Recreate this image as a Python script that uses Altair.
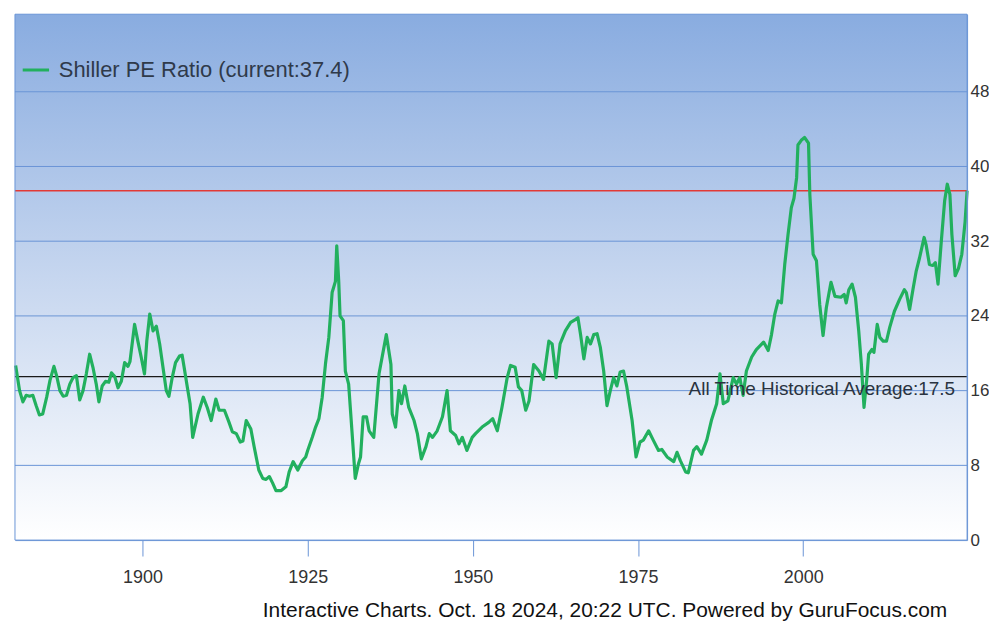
import altair as alt
import pandas as pd

# ---- data ----
years = [1880.8, 1881.4, 1881.9, 1882.4, 1882.9, 1883.4, 1883.9, 1884.4, 1884.9, 1885.5,
         1886.0, 1886.6, 1887.0, 1887.5, 1888.0, 1888.5, 1889.0, 1889.5, 1890.0, 1890.5,
         1891.0, 1891.5, 1892.0, 1892.5, 1893.0, 1893.4, 1893.9, 1894.4, 1894.9, 1895.3,
         1895.8, 1896.3, 1896.8, 1897.3, 1897.8, 1898.1, 1898.8, 1899.3, 1899.8, 1900.3,
         1900.65, 1901.1, 1901.6, 1902.1, 1902.6, 1903.1, 1903.6, 1904.0, 1904.5, 1905.0,
         1905.6, 1906.0, 1906.3, 1906.8, 1907.2, 1907.6, 1908.4, 1909.2, 1909.8, 1910.4,
         1911.1, 1911.6, 1912.4, 1913.1, 1913.6, 1914.2, 1914.8, 1915.2, 1915.7, 1916.4,
         1916.9, 1917.6, 1918.2, 1918.7, 1919.2, 1919.7, 1920.2, 1921.0, 1921.7, 1922.2,
         1922.8, 1923.5, 1924.2, 1924.7, 1925.0, 1925.7, 1926.2, 1926.7, 1927.2, 1927.7,
         1928.2, 1928.7, 1929.2, 1929.4, 1929.7, 1929.9, 1930.4, 1930.7, 1931.2, 1931.7,
         1932.2, 1932.7, 1933.0, 1933.4, 1933.9, 1934.3, 1935.0, 1935.8, 1936.9, 1937.6,
         1937.8, 1938.3, 1938.8, 1939.2, 1939.7, 1940.3, 1941.1, 1941.6, 1942.2, 1942.9,
         1943.4, 1943.9, 1944.6, 1945.4, 1946.1, 1946.6, 1947.4, 1947.9, 1948.4, 1949.1,
         1949.9, 1950.4, 1951.4, 1952.4, 1953.0, 1953.7, 1954.4, 1955.2, 1955.7, 1956.4,
         1956.9, 1957.4, 1958.0, 1958.5, 1959.2, 1960.0, 1960.7, 1961.5, 1962.0, 1962.6,
         1963.2, 1964.0, 1964.8, 1965.5, 1965.9, 1966.3, 1966.8, 1967.3, 1967.8, 1968.3,
         1968.8, 1969.3, 1969.8, 1970.3, 1970.8, 1971.3, 1971.8, 1972.3, 1972.8, 1973.3,
         1974.1, 1974.7, 1975.3, 1975.8, 1976.6, 1977.3, 1978.1, 1978.6, 1979.4, 1980.4,
         1980.9, 1981.4, 1982.2, 1982.6, 1983.4, 1983.9, 1984.6, 1985.4, 1986.1, 1986.9,
         1987.4, 1987.9, 1988.6, 1989.4, 1989.9, 1990.4, 1990.9, 1991.4, 1992.2, 1992.9,
         1994.0, 1994.7, 1995.2, 1995.7, 1996.2, 1996.7, 1997.2, 1997.7, 1998.2, 1998.6,
         1999.0, 1999.2, 1999.7, 2000.2, 2000.8, 2001.0, 2001.5, 2002.0, 2002.5, 2003.0,
         2003.5, 2004.2, 2004.8, 2005.7, 2006.2, 2006.5, 2006.9, 2007.4, 2007.9, 2008.4,
         2008.8, 2009.2, 2009.6, 2009.9, 2010.4, 2010.7, 2011.2, 2011.6, 2012.1, 2012.6,
         2013.1, 2013.8, 2014.6, 2015.3, 2015.6, 2016.1, 2016.6, 2017.1, 2017.6, 2018.3,
         2018.6, 2019.1, 2019.6, 2020.0, 2020.4, 2020.9, 2021.4, 2021.8, 2022.2, 2022.5,
         2023.0, 2023.5, 2024.0, 2024.5, 2024.8]
pe = [18.7, 16.0, 14.8, 15.5, 15.4, 15.5, 14.4, 13.4, 13.5, 15.3,
      17.1, 18.6, 17.6, 16.0, 15.4, 15.5, 16.7, 17.4, 17.6, 15.0,
      16.0, 17.8, 19.9, 18.5, 16.7, 14.8, 16.5, 17.0, 16.9, 17.9,
      17.5, 16.3, 17.0, 19.0, 18.6, 19.1, 23.1, 21.3, 19.6, 17.8,
      21.3, 24.2, 22.4, 22.9, 21.0, 18.5, 16.0, 15.4, 17.4, 19.0,
      19.7, 19.8, 18.5, 16.3, 14.6, 11.0, 13.5, 15.3, 14.2, 12.8,
      15.1, 13.9, 13.9, 12.6, 11.6, 11.4, 10.5, 10.6, 12.8, 11.9,
      10.0, 7.5, 6.6, 6.5, 6.8, 6.1, 5.3, 5.3, 5.7, 7.3,
      8.4, 7.5, 8.5, 8.9, 9.6, 11.0, 12.1, 13.0, 15.3, 18.9,
      21.7, 26.5, 27.7, 31.5, 27.7, 24.0, 23.5, 18.1, 16.7, 11.7,
      6.6, 8.2, 8.9, 13.2, 13.2, 11.7, 11.0, 17.8, 22.0, 18.8,
      13.5, 12.1, 16.0, 14.6, 16.5, 14.2, 12.8, 11.4, 8.7, 10.0,
      11.4, 11.0, 11.7, 13.2, 16.0, 11.7, 11.2, 10.3, 11.0, 9.6,
      11.0, 11.4, 12.1, 12.6, 13.0, 11.7, 14.2, 17.4, 18.7, 18.5,
      16.4, 16.0, 13.9, 14.9, 18.8, 18.1, 17.2, 21.3, 21.0, 17.4,
      21.0, 22.4, 23.3, 23.6, 23.8, 22.0, 19.4, 21.7, 21.0, 22.0,
      22.1, 20.6, 18.1, 14.4, 16.0, 17.4, 16.5, 18.0, 18.1, 16.4,
      12.8, 8.9, 10.5, 10.7, 11.7, 10.7, 9.6, 9.7, 8.9, 8.4,
      9.4, 8.5, 7.3, 7.2, 9.6, 10.0, 9.2, 10.7, 12.8, 14.6,
      17.8, 14.6, 14.9, 17.4, 16.7, 17.4, 15.5, 18.1, 19.6, 20.4,
      21.2, 20.3, 22.0, 24.2, 25.6, 25.4, 29.5, 32.7, 35.6, 36.6,
      38.8, 42.3, 42.8, 43.1, 42.5, 37.0, 30.6, 29.9, 25.2, 21.9,
      24.9, 27.6, 26.1, 26.0, 26.3, 25.4, 26.8, 27.4, 26.0, 22.4,
      18.8, 14.2, 17.1, 19.9, 20.4, 20.1, 23.1, 21.7, 21.3, 21.3,
      22.8, 24.5, 25.8, 26.8, 26.5, 24.7, 26.8, 28.8, 30.2, 32.4,
      31.6, 29.5, 29.4, 29.7, 27.4, 32.0, 36.3, 38.1, 37.0, 32.7,
      28.3, 29.1, 30.6, 34.1, 37.4]
series_name = "Shiller PE Ratio (current:37.4)"
current_value = 37.4
average_value = 17.5
average_label = "All Time Historical Average:17.5"
grid_values = [8, 16, 24, 32, 40, 48]
y_ticks = [0, 8, 16, 24, 32, 40, 48]
x_ticks = [1900, 1925, 1950, 1975, 2000]
footer = "Interactive Charts. Oct. 18 2024, 20:22 UTC. Powered by GuruFocus.com"

W, H = 956, 528
X_DOMAIN = [1880.7, 2024.8]
Y_DOMAIN = [0, 56.3]
GRID = "#6a94d6"
FONT = "Liberation Sans"

df = pd.DataFrame({"year": years, "pe": pe, "series": series_name})
grid_df = pd.DataFrame({"v": grid_values})
one = pd.DataFrame({"a": [0]})

xs = alt.Scale(domain=X_DOMAIN, nice=False, zero=False)
ys = alt.Scale(domain=Y_DOMAIN, nice=False)

bg = alt.Chart(one).mark_rect(
    color=alt.LinearGradient(
        gradient="linear",
        stops=[alt.GradientStop(color="#89ace0", offset=0),
               alt.GradientStop(color="#c6d6ef", offset=0.5),
               alt.GradientStop(color="#ffffff", offset=1)],
        x1=0, x2=0, y1=0, y2=1),
).encode(x=alt.value(0), x2=alt.value(W), y=alt.value(0), y2=alt.value(H))

grid = alt.Chart(grid_df).mark_rule(color=GRID, strokeWidth=1).encode(
    y=alt.Y("v:Q", scale=ys)
)

cur_rule = alt.Chart(pd.DataFrame({"v": [current_value]})).mark_rule(
    color="#e23a36", strokeWidth=1.5).encode(y=alt.Y("v:Q", scale=ys))
avg_rule = alt.Chart(pd.DataFrame({"v": [average_value]})).mark_rule(
    color="#1a1a1a", strokeWidth=1.5).encode(y=alt.Y("v:Q", scale=ys))

line = alt.Chart(df).mark_line(strokeWidth=3.2, strokeJoin="round").encode(
    x=alt.X("year:Q", scale=xs,
            axis=alt.Axis(values=x_ticks, format="d", title=None, grid=False,
                          domainColor=GRID, tickColor=GRID, tickSize=16,
                          labelPadding=13, labelFontSize=18, labelColor="#333333",
                          labelFont=FONT, zindex=1, labelFlush=False)),
    y=alt.Y("pe:Q", scale=ys,
            axis=alt.Axis(orient="right", values=y_ticks, title=None, grid=False,
                          domainColor=GRID, ticks=False, labelPadding=3,
                          labelFontSize=17, labelColor="#333333", labelFont=FONT,
                          zindex=1)),
    color=alt.Color("series:N", scale=alt.Scale(range=["#22b05e"]),
                    legend=alt.Legend(orient="none", legendX=6, legendY=41,
                                      title=None, symbolType="stroke",
                                      symbolStrokeWidth=3, symbolSize=700,
                                      labelFontSize=22, labelColor="#2f3a4a",
                                      labelFont=FONT, labelOffset=8, labelLimit=0)),
)

avg_text = alt.Chart(pd.DataFrame({"v": [average_value], "t": [average_label]})).mark_text(
    align="right", baseline="middle", dy=12, fontSize=19, font=FONT, color="#2a3340"
).encode(x=alt.value(W - 12), y=alt.Y("v:Q", scale=ys), text="t:N")

border = alt.Chart(one).mark_rect(filled=False, stroke=GRID, strokeWidth=1).encode(
    x=alt.value(0), x2=alt.value(W), y=alt.value(0), y2=alt.value(H))

chart = alt.layer(bg, grid, cur_rule, avg_rule, line, avg_text, border).properties(
    width=W, height=H,
    padding={"left": 6, "top": 4, "right": 0, "bottom": 0},
    title=alt.TitleParams(text=footer, orient="bottom", anchor="end", frame="group",
                          dx=-20, fontSize=21, fontWeight="normal", color="#111111",
                          font=FONT, offset=13),
).configure_view(stroke=None).resolve_scale(y="shared")

chart.save("out.html", embed_options={"renderer": "svg", "actions": False})
